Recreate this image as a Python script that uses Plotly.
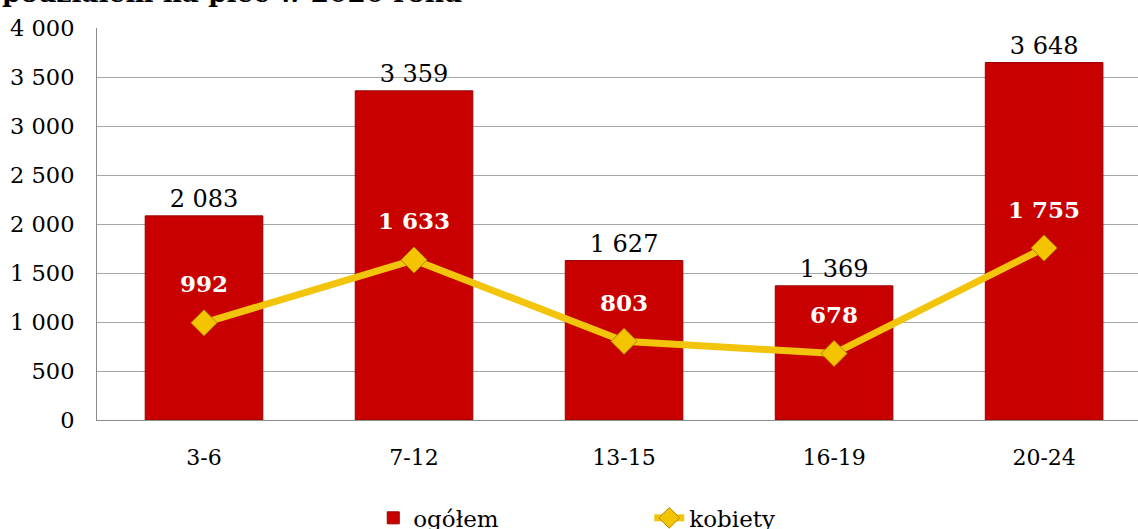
import plotly.graph_objects as go

# ── data ────────────────────────────────────────────────────────────
age_groups = ["3-6", "7-12", "13-15", "16-19", "20-24"]
total = [2083, 3359, 1627, 1369, 3648]
women = [992, 1633, 803, 678, 1755]
y_ticks = [0, 500, 1000, 1500, 2000, 2500, 3000, 3500, 4000]


def fmt(v):
    return f"{v:,}".replace(",", " ")


FONT = "DejaVu Serif"
RED = "#C80000"
GOLD = "#F2C40C"

fig = go.Figure()

fig.add_trace(go.Bar(
    x=age_groups, y=total,
    name="ogółem",
    marker=dict(color=RED, line=dict(color="#9A0000", width=1)),
    text=[fmt(v) for v in total],
    textposition="outside",
    textfont=dict(family=FONT, size=24, color="#000000"),
    cliponaxis=False,
))

fig.add_trace(go.Scatter(
    x=age_groups, y=women,
    name="kobiety",
    mode="lines+markers",
    line=dict(color=GOLD, width=7),
    marker=dict(symbol="diamond", size=20, color="#F5C400",
                line=dict(color="#B08800", width=1)),
))

# white bold labels above the line markers
for cat, v in zip(age_groups, women):
    fig.add_annotation(
        x=cat, y=v, text=f"<b>{fmt(v)}</b>", showarrow=False,
        yshift=39, font=dict(family=FONT, size=23, color="#FFFFFF"),
    )

# partly clipped title line at the top edge
fig.add_annotation(
    xref="paper", yref="paper", x=-0.0932, y=1.046,
    xanchor="left", yanchor="bottom", showarrow=False,
    text="<b>podziałem na płeć w 2020 roku</b>",
    font=dict(family=FONT, size=26.4, color="#000000"),
)

fig.update_layout(
    width=1138, height=529,
    paper_bgcolor="white", plot_bgcolor="white",
    font=dict(family=FONT, size=22, color="#000000"),
    margin=dict(l=97, r=0, t=28, b=109, autoexpand=False),
    bargap=0.44,
    showlegend=True,
    legend=dict(
        orientation="h", xref="container", yref="container",
        x=0.328, y=0.021, xanchor="left", yanchor="middle",
        entrywidth=231, font=dict(family=FONT, size=23),
    ),
    xaxis=dict(
        range=[-0.5095, 4.447], showgrid=False,
        showline=True, linecolor="#8C8C8C", linewidth=1,
        ticks="", ticklabelstandoff=18,
        tickfont=dict(family=FONT, size=22),
    ),
    yaxis=dict(
        range=[0, 4000], tickvals=y_ticks, ticktext=[fmt(v) for v in y_ticks],
        showgrid=True, gridcolor="#A6A6A6", gridwidth=1,
        showline=True, linecolor="#8C8C8C", linewidth=1,
        ticks="", ticklabelstandoff=17, zeroline=False,
        tickfont=dict(family=FONT, size=22.5),
    ),
)

# page default body margin would shift the figure by 8px
fig.write_html("out.html", config={"displayModeBar": False},
               post_script="document.body.style.margin='0';")
